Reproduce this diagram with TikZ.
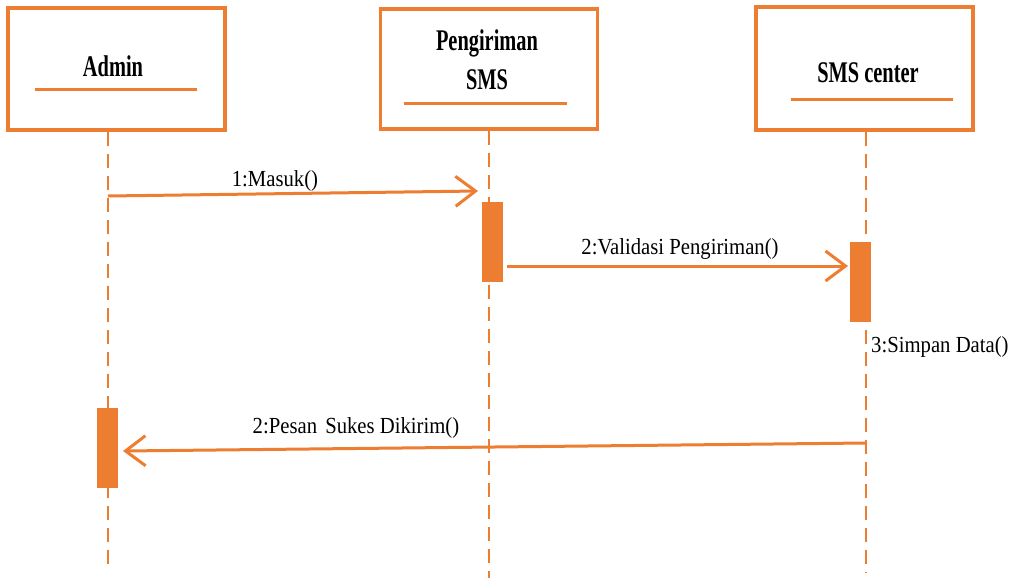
\documentclass[tikz,border=0pt]{standalone}
\usepackage{fontspec}
\setmainfont{Liberation Serif}
\newfontfamily\labelfont[FakeStretch=0.9]{Liberation Serif}
\newfontfamily\headfont[FakeStretch=0.68]{Liberation Serif}
\usetikzlibrary{arrows.meta}
\definecolor{uml}{HTML}{ED7D31}

\begin{document}
\begin{tikzpicture}[x=1pt,y=-1pt,
  lifebox/.style={draw=uml, line width=3.5pt, fill=white, inner sep=0pt,
    minimum width=217pt, minimum height=122pt},
  headtext/.style={font=\headfont\bfseries\fontsize{30}{38}\selectfont,
    text=black, inner sep=0pt, anchor=base},
  headrule/.style={draw=uml, line width=3pt},
  lifeline/.style={draw=uml, line width=2pt, dash pattern=on 14pt off 8pt},
  actbar/.style={draw=none, fill=uml, inner sep=0pt,
    minimum width=21pt, minimum height=80pt},
  msg/.style={draw=uml, line width=3pt,
    -{Straight Barb[length=20pt,width=30pt,line join=miter]}},
  msgtext/.style={font=\labelfont\fontsize{23}{27}\selectfont,
    text=black, inner sep=0pt, anchor=base}
]
\useasboundingbox (0,0) rectangle (1019,578);

% participant boxes
\node[lifebox] (admin) at (116.5,69) {};
\node[lifebox, minimum height=120pt] (peng) at (489,69) {};
\node[lifebox, minimum height=123pt] (smsc) at (864.5,68.5) {};

% participant names and underlines
\node[headtext] (adminname) at (113,77) {Admin};
\node[headtext] (pengname1) at (487,51) {Pengiriman};
\node[headtext] (pengname2) at (487,89) {SMS};
\node[headtext] (smscname) at (868,82) {SMS center};
\coordinate (au1) at (35,89);  \coordinate (au2) at (197,89);
\coordinate (pu1) at (404,103); \coordinate (pu2) at (567,103);
\coordinate (su1) at (791,99);  \coordinate (su2) at (953,99);
\draw[headrule] (au1) -- (au2);
\draw[headrule] (pu1) -- (pu2);
\draw[headrule] (su1) -- (su2);

% lifelines
\coordinate (adminend) at (108,570);
\coordinate (pengend) at (489,578);
\coordinate (smscend) at (866,572);
\draw[lifeline] (admin.south -| adminend) -- (adminend);
\draw[lifeline] (peng.south -| pengend) -- (pengend);
\draw[lifeline] (smsc.south -| smscend) -- (smscend);

% activation bars
\node[actbar] (actP) at (492.5,242) {};
\node[actbar] (actS) at (860.5,282) {};
\node[actbar] (actA) at (107.5,448) {};

% messages
\coordinate (m1s) at (108,196); \coordinate (m1e) at (478,191);
\draw[msg] (m1s) -- (m1e);
\node[msgtext] (m1) at (275,186) {1:Masuk()};

\coordinate (m2s) at (507,266); \coordinate (m2e) at (848,266);
\draw[msg] (m2s) -- (m2e);
\node[msgtext] (m2) at (680,254) {2:Validasi Pengiriman()};

\node[msgtext, anchor=base west] (m3) at (871,352) {3:Simpan Data()};

\coordinate (m4s) at (866,443); \coordinate (m4e) at (123,451);
\draw[msg] (m4s) -- (m4e);
\node[msgtext] (m4) at (356,433) {2:Pesan\hspace{3pt} Sukes Dikirim()};
\end{tikzpicture}
\end{document}
